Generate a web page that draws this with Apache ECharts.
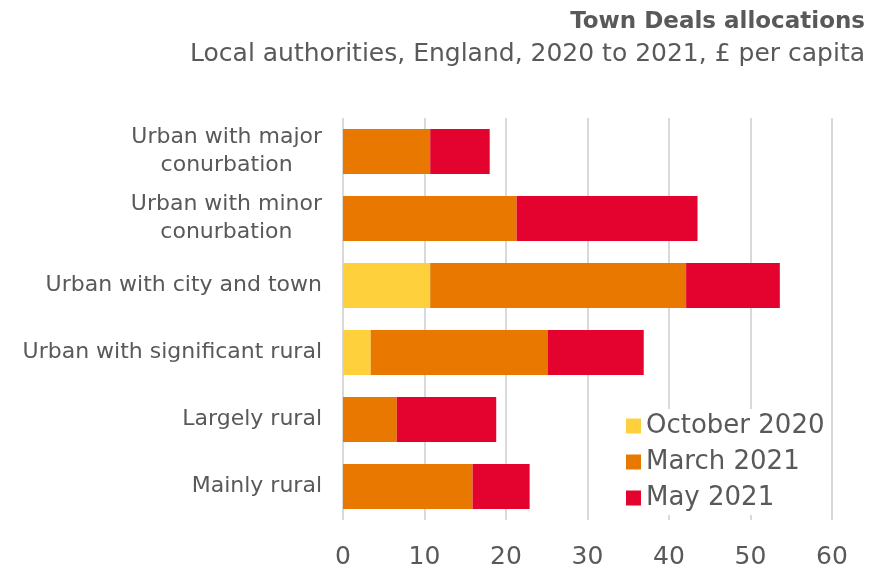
<!DOCTYPE html>
<html>
<head>
<meta charset="utf-8">
<script src="https://cdn.jsdelivr.net/npm/echarts@6/dist/echarts.min.js"></script>
<style>
  html, body { margin: 0; padding: 0; background: #fff; }
  #chart { width: 870px; height: 570px; }
</style>
</head>
<body>
<div id="chart"></div>
<script>
var categories = ['Urban with major\nconurbation', 'Urban with minor\nconurbation', 'Urban with city and town',
    'Urban with significant rural', 'Largely rural', 'Mainly rural'];
var seriesNames = ['October 2020', 'March 2021', 'May 2021'];
var october2020 = [0, 0, 10.7, 3.4, 0, 0];
var march2021 = [10.7, 21.3, 31.4, 21.7, 6.6, 15.9];
var may2021 = [7.3, 22.2, 11.5, 11.8, 12.2, 7.0];
var xTicks = [0, 10, 20, 30, 40, 50, 60];

var colors = ['#fdd03c', '#e97800', '#e4032e'];
var font = 'DejaVu Sans';

var myChart = echarts.init(document.getElementById('chart'));

function makeSeries(name, data) {
    return {
        name: name,
        type: 'bar',
        stack: 'total',
        barCategoryGap: '33%',
        data: data,
        itemStyle: {borderWidth: 0}
    };
}

var option = {
    animation: false,
    color: colors,
    title: [{
        text: 'Town Deals allocations',
        right: 0,
        top: 6,
        textStyle: {fontFamily: font, fontSize: 23, fontWeight: 'bold', color: '#595959'}
    }, {
        text: 'Local authorities, England, 2020 to 2021, \u00a3 per capita',
        right: 0,
        top: 37,
        textStyle: {fontFamily: font, fontSize: 25, fontWeight: 'normal', color: '#595959'}
    }],
    legend: {
        orient: 'vertical',
        left: 620,
        top: 409,
        itemWidth: 15,
        itemHeight: 15,
        itemGap: 10,
        icon: 'rect',
        backgroundColor: '#fff',
        padding: [4, 6, 4, 6],
        data: seriesNames,
        textStyle: {fontFamily: font, fontSize: 26, color: '#595959'}
    },
    grid: {left: 343, right: 38, top: 118, bottom: 46, containLabel: false},
    xAxis: {
        type: 'value',
        min: xTicks[0],
        max: xTicks[xTicks.length - 1],
        interval: 10,
        axisLine: {show: false},
        axisTick: {show: false},
        axisLabel: {fontFamily: font, fontSize: 25, color: '#595959', margin: 25},
        splitLine: {lineStyle: {color: '#d9d9d9', width: 2}}
    },
    yAxis: {
        type: 'category',
        inverse: true,
        data: categories,
        axisLine: {show: false},
        axisTick: {show: false},
        axisLabel: {
            fontFamily: font,
            fontSize: 22,
            color: '#595959',
            margin: 21,
            lineHeight: 28,
            formatter: function (v) {
                return v.split('\n').map(function (s) { return '{c|' + s + '}'; }).join('\n');
            },
            rich: {c: {align: 'center', fontFamily: font, fontSize: 22, color: '#595959', lineHeight: 28}}
        }
    },
    series: [
        makeSeries(seriesNames[0], october2020),
        makeSeries(seriesNames[1], march2021),
        makeSeries(seriesNames[2], may2021)
    ]
};

myChart.setOption(option);
</script>
</body>
</html>
